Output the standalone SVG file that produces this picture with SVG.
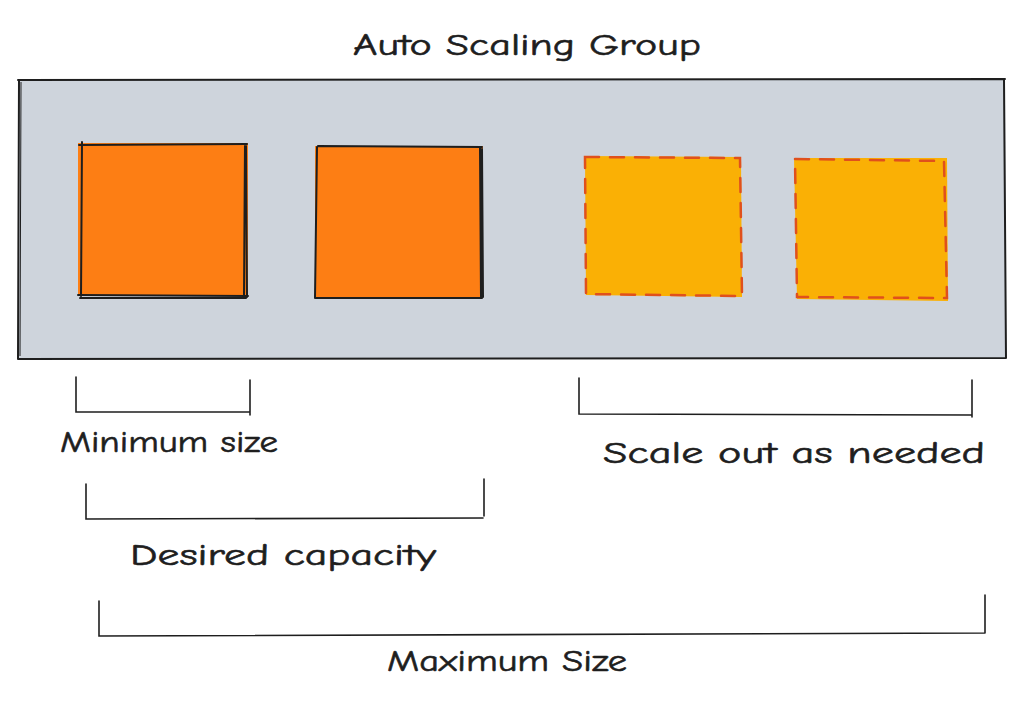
<svg xmlns="http://www.w3.org/2000/svg" width="1024" height="701" viewBox="0 0 1024 701">
<style>
.lbl{font-family:"Comic Neue","DejaVu Sans","Liberation Sans",sans-serif;font-size:31px;fill:#1e1e1e;stroke:#1e1e1e;stroke-width:0.6}
.ink{fill:none;stroke:#1e1e1e;stroke-width:2;stroke-linecap:round;stroke-linejoin:round}
.bracket{fill:none;stroke:#1e1e1e;stroke-width:1.6;stroke-linecap:round}
.solid{fill:#fd7e14}
.dash{fill:#fab005}
.dashline{fill:none;stroke:#e0501c;stroke-width:2.5;stroke-dasharray:14 11;stroke-linecap:round}
</style>
<rect width="1024" height="701" fill="#ffffff"/>
<g id="asg">
<path d="M18 80 L1005 79 L1006 358 L18 358 Z" fill="#ced4dc"/>
<path class="ink" d="M18 80 L1005 79 M1004 79 L1006 358 M1006 358 L18 359 M18 359 L19 80"/>
<path d="M21 82 L20 356" stroke="#1e1e1e" stroke-width="1" fill="none"/>
<text class="lbl" x="527" y="55" text-anchor="middle" textLength="348" lengthAdjust="spacingAndGlyphs">Auto Scaling Group</text>
</g>
<g id="instance1">
<rect class="solid" x="78" y="143" width="170" height="153"/>
<path class="ink" d="M79 145 L247 144 M82 142 L81 297 M78 295 L248 296 M246 146 L247 297 M245 145 L244 296 M80 298 L246 298"/>
</g>
<g id="instance2">
<rect class="solid" x="315" y="146" width="168" height="151"/>
<path class="ink" d="M318 146 L482 147 M317 147 L315 298 M316 298 L482 298 M480 147 L481 298 M482 149 L483 297"/>
</g>
<g id="instance3">
<path class="dash" d="M585 156 L741 157 L742 297 L586 295 Z"/>
<path class="dashline" d="M585 157 L740 158 L742 296 L586 294 Z"/>
</g>
<g id="instance4">
<path class="dash" d="M794 158 L947 158 L948 301 L797 299 Z"/>
<path class="dashline" d="M795 159 L944 161 L947 298 L797 297 Z"/>
</g>
<g id="brackets">
<path class="bracket" d="M76 377 L76 412 L250 412 M250 380 L250 415"/>
<path class="bracket" d="M86 484 L86 519 L483 518 M484 479 L484 516"/>
<path class="bracket" d="M579 378 L579 414 L972 415 M972 380 L972 417"/>
<path class="bracket" d="M99 601 L99 636 L985 633 M985 595 L985 633"/>
</g>
<g id="labels">
<text class="lbl" x="60" y="452" textLength="218" lengthAdjust="spacingAndGlyphs">Minimum size</text>
<text class="lbl" x="603" y="463" textLength="382" lengthAdjust="spacingAndGlyphs">Scale out as needed</text>
<text class="lbl" x="130" y="565" textLength="306" lengthAdjust="spacingAndGlyphs">Desired capacity</text>
<text class="lbl" x="387" y="671" textLength="240" lengthAdjust="spacingAndGlyphs">Maximum Size</text>
</g>
</svg>
